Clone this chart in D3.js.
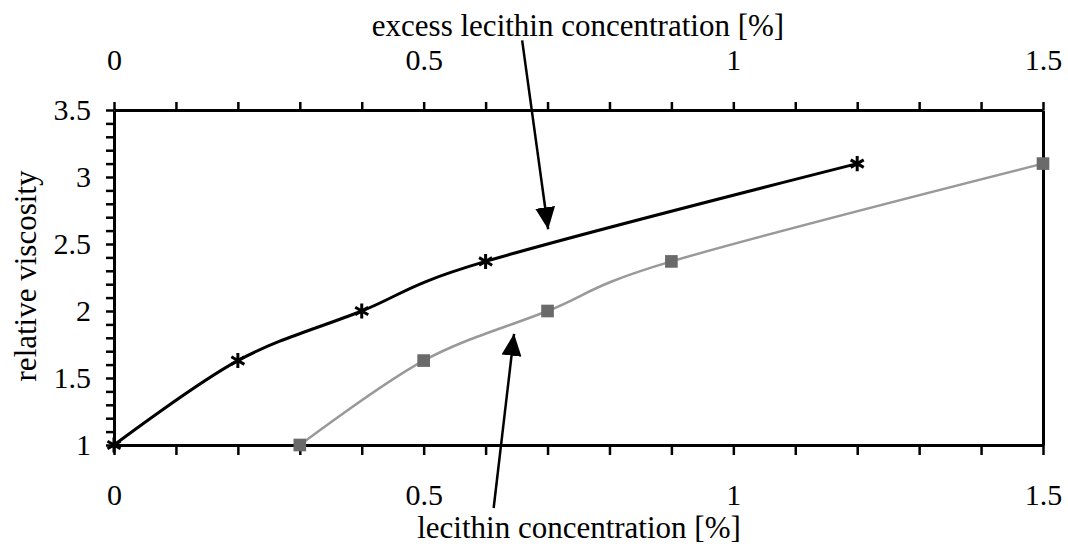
<!DOCTYPE html>
<html>
<head>
<meta charset="utf-8">
<script src="https://cdn.jsdelivr.net/npm/d3@7"></script>
<style>
  html, body { margin: 0; padding: 0; background: #fff; }
  svg { display: block; }
  text { font-family: "Liberation Serif", "Times New Roman", serif; fill: #000; }
</style>
</head>
<body>
<svg id="chart" width="1068" height="547"></svg>
<script>
// Relative viscosity vs. lecithin concentration
const viscosity = [1.0, 1.63, 2.0, 2.37, 3.1];
const lecithin = [0.3, 0.5, 0.7, 0.9, 1.5];          // bottom axis series
const excessLecithin = [0.0, 0.2, 0.4, 0.6, 1.2];    // top axis series
const xTickLabels = ["0", "0.5", "1", "1.5"];
const yTickLabels = ["1", "1.5", "2", "2.5", "3", "3.5"];
const titleTop = "excess lecithin concentration [%]";
const titleBottom = "lecithin concentration [%]";
const titleY = "relative viscosity";

// Annotation arrows, in data units: [fromX, fromY, toX, toY]
const arrowExcess = [0.659, 4.02, 0.701, 2.61];
const arrowLecithin = [0.613, 0.53, 0.646, 1.83];

const svg = d3.select("#chart");
const tickFont = 30;
const titleFont = 31;

const x = d3.scaleLinear().domain([0, 1.5]).range([114, 1043]);
const y = d3.scaleLinear().domain([1, 3.5]).range([445, 110]);

const xMinor = d3.range(0, 16).map(i => i / 10);
const yMinor = d3.range(10, 36).map(i => i / 10);
const isHalf = v => Math.abs(v * 2 - Math.round(v * 2)) < 1e-9;
const xLab = v => { const s = d3.format("~g")(v); return isHalf(v) && xTickLabels.includes(s) ? s : ""; };
const yLab = v => { const s = d3.format("~g")(v); return isHalf(v) && yTickLabels.includes(s) ? s : ""; };

function styleAxis(g) {
  g.select(".domain").attr("stroke", "#000").attr("stroke-width", 3);
  g.selectAll(".tick line").attr("stroke", "#000").attr("stroke-width", 2.5);
  g.selectAll(".tick text").style("font-size", tickFont + "px")
    .style("font-family", '"Liberation Serif", "Times New Roman", serif').attr("fill", "#000");
}

// bottom axis
svg.append("g").attr("transform", `translate(0,${y(1)})`)
  .call(d3.axisBottom(x).tickValues(xMinor).tickFormat(xLab).tickSize(10).tickSizeOuter(0).tickPadding(29))
  .call(styleAxis);
// top axis
svg.append("g").attr("transform", `translate(0,${y(3.5)})`)
  .call(d3.axisTop(x).tickValues(xMinor).tickFormat(xLab).tickSize(8).tickSizeOuter(0).tickPadding(32))
  .call(styleAxis);
// left axis
svg.append("g").attr("transform", `translate(${x(0)},0)`)
  .call(d3.axisLeft(y).tickValues(yMinor).tickFormat(yLab).tickSize(8).tickSizeOuter(0).tickPadding(15))
  .call(styleAxis);
// right frame
svg.append("g").attr("transform", `translate(${x(1.5)},0)`)
  .call(d3.axisRight(y).tickValues([]).tickSizeOuter(0))
  .call(styleAxis);

// axis titles
svg.append("text").attr("x", 578).attr("y", 36).attr("text-anchor", "middle")
  .style("font-size", titleFont + "px").text(titleTop);
svg.append("text").attr("x", 579).attr("y", 538).attr("text-anchor", "middle")
  .style("font-size", titleFont + "px").text(titleBottom);
svg.append("text").attr("transform", "translate(36,276) rotate(-90)").attr("text-anchor", "middle")
  .style("font-size", titleFont + "px").text(titleY);

const curve = d3.curveCardinal.tension(0);

// lecithin series (gray, squares)
const grayData = lecithin.map((v, i) => [v, viscosity[i]]);
svg.append("path").datum(grayData)
  .attr("fill", "none").attr("stroke", "#999").attr("stroke-width", 2.5)
  .attr("d", d3.line().x(d => x(d[0])).y(d => y(d[1])).curve(curve));
svg.append("g").selectAll("path").data(grayData).join("path")
  .attr("transform", d => `translate(${x(d[0])},${y(d[1])})`)
  .attr("d", d3.symbol(d3.symbolSquare, 160))
  .attr("fill", "#6a6a6a");

// excess lecithin series (black, asterisks)
const blackData = excessLecithin.map((v, i) => [v, viscosity[i]]);
svg.append("path").datum(blackData)
  .attr("fill", "none").attr("stroke", "#000").attr("stroke-width", 3)
  .attr("d", d3.line().x(d => x(d[0])).y(d => y(d[1])).curve(curve));
svg.append("g").selectAll("path").data(blackData).join("path")
  .attr("transform", d => `translate(${x(d[0])},${y(d[1])})`)
  .attr("d", d3.symbol(d3.symbolAsterisk, 160))
  .attr("fill", "none").attr("stroke", "#000").attr("stroke-width", 3);

// arrows
const defs = svg.append("defs");
defs.append("marker").attr("id", "head")
  .attr("markerUnits", "userSpaceOnUse")
  .attr("viewBox", "0 0 22 20").attr("refX", 22).attr("refY", 10)
  .attr("markerWidth", 22).attr("markerHeight", 20).attr("orient", "auto")
  .append("path").attr("d", "M0,0 L22,10 L0,20 Z").attr("fill", "#000");

[arrowExcess, arrowLecithin].forEach(a => {
  svg.append("line")
    .attr("x1", x(a[0])).attr("y1", y(a[1]))
    .attr("x2", x(a[2])).attr("y2", y(a[3]))
    .attr("stroke", "#000").attr("stroke-width", 2.5)
    .attr("marker-end", "url(#head)");
});
</script>
</body>
</html>
